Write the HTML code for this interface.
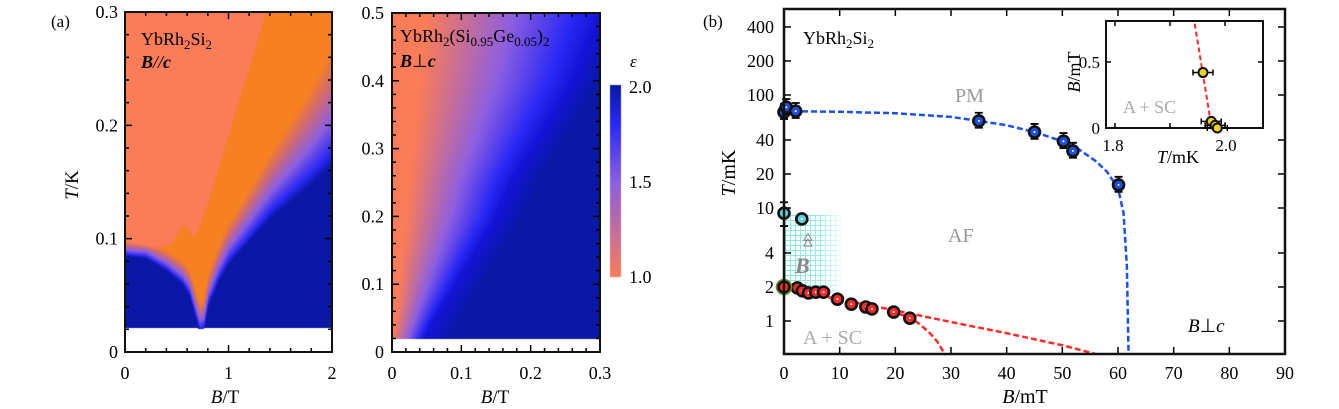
<!DOCTYPE html>
<html><head><meta charset="utf-8">
<style>
body{margin:0;background:#fff;width:1339px;height:409px;overflow:hidden;position:relative;font-family:"Liberation Serif",serif}
canvas{position:absolute;left:0;top:0}
svg{position:absolute;left:0;top:0}
</style></head><body>
<canvas id="heat" width="1339" height="409"></canvas>
<svg id="fig" width="1339" height="409" font-family="Liberation Serif, serif"></svg>
<script>
// ---------- Panel (a) heatmap boundary data ----------
const a1B=[0,0.2,0.4,0.55,0.62,0.68,0.72,0.76,0.8,0.9,1.0,1.2,1.4,1.6,1.8,2.0];
const a1Lo=[0.085,0.083,0.072,0.06,0.05,0.03,0.018,0.02,0.04,0.062,0.078,0.098,0.118,0.133,0.148,0.165];
const a1HiB=[0,0.3,0.45,0.55,0.6,0.65,0.7,0.8,0.9,1.0,1.1,1.2,1.3,1.36,1.4,2.0];
const a1Hi=[0.095,0.09,0.093,0.11,0.108,0.1,0.105,0.13,0.16,0.19,0.22,0.25,0.28,0.3,0.4,0.4];
const a2T=[0.02,0.05,0.1,0.15,0.2,0.25,0.3,0.35,0.4,0.45,0.5];
const a2Start=[0.0,0.005,0.01,0.015,0.02,0.025,0.03,0.035,0.04,0.045,0.05];
const a2Full=[0.045,0.06,0.09,0.12,0.15,0.17,0.2,0.23,0.26,0.28,0.3];
// ---------- Panel (b) data ----------
const blueB=[0,0.4,2.1,35,45,50.2,51.9,60.1];
const blueT=[70.6,78,72,59,47,39,32,16];
const cyanB=[0,3.2];
const cyanT=[9.0,8.0];
const redB=[0,2.4,3.3,4.4,5.7,7.1,9.6,12.1,14.7,15.8,19.7,22.6];
const redT=[2.0,1.96,1.85,1.77,1.8,1.8,1.56,1.41,1.33,1.28,1.2,1.06];
const fitBlueB=[0,10,20,30,35,40,45,50,53,56,58,60,61,61.6,61.9];
const fitBlueT=[72,71,69,64,59,54,47,39,33,26,21,15,9,3,0.5];
const fitRedB=[0,10,20,30,40,50,56];
const fitRedT=[1.95,1.55,1.24,0.98,0.78,0.61,0.51];
const fitRed2B=[19,22,24,26,27.5,29];
const fitRed2T=[1.22,1.1,0.97,0.8,0.66,0.5];
const insetT=[1.96,1.975,1.982,1.986];
const insetB=[0.42,0.05,0.02,0.0];
const insetFitT=[1.945,1.975];
const insetFitB=[0.79,0.02];

function interp(xs,ys,x){if(x<=xs[0])return ys[0];for(let i=1;i<xs.length;i++){if(x<=xs[i]){const t=(x-xs[i-1])/(xs[i]-xs[i-1]);return ys[i-1]+t*(ys[i]-ys[i-1]);}}return ys[ys.length-1];}
function mix(c1,c2,t){return [c1[0]+(c2[0]-c1[0])*t,c1[1]+(c2[1]-c1[1])*t,c1[2]+(c2[2]-c1[2])*t];}
function ramp(stops,d){d=Math.max(0,Math.min(1,d));for(let i=1;i<stops.length;i++){if(d<=stops[i][0]){const t=(d-stops[i-1][0])/(stops[i][0]-stops[i-1][0]);return mix(stops[i-1][1],stops[i][1],t);}}return stops[stops.length-1][1];}
const DB=[10,24,165],BB=[40,40,245],PU=[140,95,225],PK=[205,105,120],OR=[247,128,32],SA=[250,124,88];
const cmapStops=[[0,SA],[0.5,PU],[0.8,BB],[1,DB]];
const A1={x0:125,x1:332,y0:12,y1:352,bmax:2,tmax:0.3};
const A2={x0:392,x1:600,y0:13,y1:352,bmax:0.3,tmax:0.5};
(function(){
 const c=document.getElementById('heat').getContext('2d');
 const img=c.createImageData(1339,409);const D=img.data;
 function put(x,y,col){const i=(y*1339+x)*4;D[i]=col[0];D[i+1]=col[1];D[i+2]=col[2];D[i+3]=255;}
 for(let y=A1.y0;y<A1.y1;y++)for(let x=A1.x0;x<A1.x1;x++){
  const B=(x-A1.x0)/(A1.x1-A1.x0)*A1.bmax,T=(A1.y1-y)/(A1.y1-A1.y0)*A1.tmax;
  if(T<0.022&&!(B>0.7&&B<0.76&&T>0.021)){continue;}
  const lo=interp(a1B,a1Lo,B),hi=interp(a1HiB,a1Hi,B);
  const w=0.014+0.09*Math.pow(B/2,2);
  let col;
  if(T<lo)col=DB;else{const d=(T-lo)/w;col=ramp([[0,DB],[0.12,BB],[0.4,PU],[0.7,PK],[1,OR]],d);}
  if(T>hi){const s=Math.min(1,(T-hi)/0.004);col=mix(col,SA,s);}
  put(x,y,col);}
 for(let y=A2.y0;y<A2.y1;y++)for(let x=A2.x0;x<A2.x1;x++){
  const B=(x-A2.x0)/(A2.x1-A2.x0)*A2.bmax,T=(A2.y1-y)/(A2.y1-A2.y0)*A2.tmax;
  if(T<0.02)continue;
  const s=interp(a2T,a2Start,T),f=interp(a2T,a2Full,T);
  const d=(B-s)/(f-s);let col;
  if(d<=1)col=ramp([[0,SA],[0.5,PU],[0.85,BB],[1,[20,20,215]]],d);
  else col=mix([20,20,215],DB,Math.min(1,(B-f)/0.04));
  put(x,y,col);}
 for(let y=85;y<277;y++)for(let x=610;x<621;x++){put(x,y,ramp(cmapStops,(277-y)/192));}
 c.putImageData(img,0,0);
})();

const NS='http://www.w3.org/2000/svg';
const svg=document.getElementById('fig');
function el(tag,attrs,parent){const e=document.createElementNS(NS,tag);for(const k in attrs)e.setAttribute(k,attrs[k]);(parent||svg).appendChild(e);return e;}
function txt(s,x,y,size,anchor,extra,parent){const t=el('text',Object.assign({x:x,y:y,'font-size':size,'text-anchor':anchor||'start'},extra||{}),parent);t.innerHTML=s;return t;}

function linFrame(P,xMaj,xMin,yMaj,yMin,name){
 const g=el('g',{});
 
 
 const xs=b=>P.x0+b/P.bmax*(P.x1-P.x0), ys=t=>P.y1-t/P.tmax*(P.y1-P.y0);
 for(let v=0;v<=P.bmax+1e-9;v+=xMin){const maj=Math.abs(v/xMaj-Math.round(v/xMaj))<1e-6;const L=maj?7:4;const X=xs(v);
  el('line',{x1:X,y1:P.y1,x2:X,y2:P.y1-L,stroke:'#000','stroke-width':1.5},g);el('line',{x1:X,y1:P.y0,x2:X,y2:P.y0+L,stroke:'#000','stroke-width':1.5},g);}
 for(let v=0;v<=P.tmax+1e-9;v+=yMin){const maj=Math.abs(v/yMaj-Math.round(v/yMaj))<1e-6;const L=maj?7:4;const Y=ys(v);
  el('line',{x1:P.x0,y1:Y,x2:P.x0+L,y2:Y,stroke:'#000','stroke-width':1.5},g);el('line',{x1:P.x1,y1:Y,x2:P.x1-L,y2:Y,stroke:'#000','stroke-width':1.5},g);}
 el('rect',{x:P.x0,y:P.y0,width:P.x1-P.x0,height:P.y1-P.y0,fill:'none',stroke:'#111','stroke-width':2},g);
 return {xs,ys};
}
const f1=linFrame(A1,1,0.2,0.1,0.02,'panel-a1-frame');
const f2=linFrame(A2,0.1,0.02,0.1,0.02,'panel-a2-frame');
const a1YL=['0','0.1','0.2','0.3'],a1XL=['0','1','2'];
a1YL.forEach((s,i)=>{const t=txt(s,118,f1.ys(i*0.1)+6,18,'end');});
a1XL.forEach((s,i)=>{const t=txt(s,f1.xs(i),379,18,'middle');});
const a2YL=['0','0.1','0.2','0.3','0.4','0.5'],a2XL=['0','0.1','0.2','0.3'];
a2YL.forEach((s,i)=>{const t=txt(s,384,f2.ys(i*0.1)+6,18,'end');});
a2XL.forEach((s,i)=>{const t=txt(s,f2.xs(i*0.1),379,18,'middle');});
</script>
<svg width="1339" height="409" style="position:absolute;left:0;top:0" font-family="Liberation Serif, serif">
 <text x="51" y="27" font-size="17">(a)</text>
 <text x="141" y="45" font-size="18">YbRh<tspan font-size="13" dy="4">2</tspan><tspan dy="-4">Si</tspan><tspan font-size="13" dy="4">2</tspan></text>
 <text x="141" y="68" font-size="18" font-weight="bold" font-style="italic">B<tspan font-weight="normal" font-style="italic">//</tspan>c</text>
 <text x="400" y="42" font-size="18">YbRh<tspan font-size="13" dy="4">2</tspan><tspan dy="-4">(Si</tspan><tspan font-size="13" dy="4">0.95</tspan><tspan dy="-4">Ge</tspan><tspan font-size="13" dy="4">0.05</tspan><tspan dy="-4">)</tspan><tspan font-size="13" dy="4">2</tspan></text>
 <text x="400" y="67" font-size="18" font-weight="bold" font-style="italic">B<tspan font-weight="normal" font-style="normal">⊥</tspan>c</text>
 <text x="78" y="185" font-size="19" text-anchor="middle" transform="rotate(-90 78 185)"><tspan font-style="italic">T</tspan>/K</text>
 <text x="225" y="403" font-size="19" text-anchor="middle"><tspan font-style="italic">B</tspan>/T</text>
 <text x="495" y="403" font-size="19" text-anchor="middle"><tspan font-style="italic">B</tspan>/T</text>
 <text x="630" y="67" font-size="17" font-style="italic">ε</text>
 <text x="629" y="93" font-size="18">2.0</text>
 <text x="629" y="188" font-size="18">1.5</text>
 <text x="629" y="283" font-size="18">1.0</text>
 <text x="703" y="27" font-size="17">(b)</text>
</svg>
<script>
const BX0=784,BX1=1285,BY0=9,BY1=354;
const bx=b=>BX0+b*(BX1-BX0)/90;
const by=t=>321-113*Math.log10(t);
const IX=t=>1115+(t-1.8)*550, IY=b=>128-b*132;
const bg=el('g',{});


const defs=el('defs',{},bg);
const pat=el('pattern',{id:'hatch',width:5,height:5,patternUnits:'userSpaceOnUse'},defs);
el('path',{d:'M0 0.5H5M0.5 0V5',stroke:'#7fe8e0','stroke-width':1},pat);
const lg=el('linearGradient',{id:'fade',x1:0,x2:1,y1:0,y2:0},defs);
el('stop',{offset:0,'stop-color':'#fff','stop-opacity':1},lg);el('stop',{offset:0.6,'stop-color':'#fff','stop-opacity':0.8},lg);el('stop',{offset:1,'stop-color':'#fff','stop-opacity':0},lg);
const mask=el('mask',{id:'m'},defs);el('rect',{x:784,y:215,width:60,height:76,fill:'url(#fade)'},mask);
const hr=el('rect',{x:784,y:215,width:60,height:76,fill:'url(#hatch)',mask:'url(#m)'},bg);


const yT=[1,2,4,10,20,40,100,200,400],yL=['1','2','4','10','20','40','100','200','400'];
yT.forEach((t,i)=>{const Y=by(t);el('line',{x1:BX0,y1:Y,x2:BX0+7,y2:Y,stroke:'#000','stroke-width':1.5},bg);el('line',{x1:BX1,y1:Y,x2:BX1-7,y2:Y,stroke:'#000','stroke-width':1.5},bg);
 const t2=txt(yL[i],774,Y+6,18,'end',{},bg);});
for(let v=0;v<=90;v+=10){const X=bx(v);el('line',{x1:X,y1:BY1,x2:X,y2:BY1-7,stroke:'#000','stroke-width':1.5},bg);el('line',{x1:X,y1:BY0,x2:X,y2:BY0+7,stroke:'#000','stroke-width':1.5},bg);
 const t2=txt(String(v),X,379,18,'middle',{},bg);}
function pl(xs,ys,fx,fy,color,name,w){const p=el('polyline',{points:xs.map((x,i)=>fx(x)+','+fy(ys[i])).join(' '),fill:'none',stroke:color,'stroke-width':w||2.5,'stroke-dasharray':'6,3'},bg);return p;}
pl(fitBlueB,fitBlueT,bx,by,'#1e4fe6','afm-boundary-fit');
pl(fitRedB,fitRedT,bx,by,'#ff2a2a','sc-boundary-fit');
pl(fitRed2B,fitRed2T,bx,by,'#ff2a2a','sc-boundary-fit-2');
function pt(X,Y,fill,name,ey1,ey2){
 if(ey1!==undefined){const e=el('path',{d:`M${X} ${ey1}V${ey2}M${X-4} ${ey1}H${X+4}M${X-4} ${ey2}H${X+4}`,stroke:'#000','stroke-width':1.8},bg);}
 const c=el('circle',{cx:X,cy:Y,r:5.5,fill:fill,stroke:'#111','stroke-width':2.6},bg);
 
 
 el('circle',{cx:X,cy:Y,r:1,fill:'#fff'},bg);
}
blueB.forEach((b,i)=>pt(bx(b),by(blueT[i]),'#1f4fe0','afm-point',by(blueT[i]*1.18),by(blueT[i]/1.15)));
cyanB.forEach((b,i)=>pt(bx(b),by(cyanT[i]),'#5fd0e0','cyan-point',i==0?by(cyanT[i]*1.25):undefined,i==0?by(cyanT[i]/1.3):undefined));
redB.forEach((b,i)=>pt(bx(b),by(redT[i]),'#ff2a2a','sc-point',by(redT[i]*1.08),by(redT[i]/1.08)));
el('circle',{cx:bx(0),cy:by(2),r:7.5,fill:'none',stroke:'#6a8a20','stroke-width':1.5},bg);
[5.5,4.9].forEach(t=>{const X=bx(4.3),Y=by(t);el('path',{d:`M${X-4} ${Y+3}L${X} ${Y-4}L${X+4} ${Y+3}Z`,fill:'none',stroke:'#888','stroke-width':1},bg);});
el('rect',{x:BX0,y:BY0,width:BX1-BX0,height:BY1-BY0,fill:'none',stroke:'#111','stroke-width':2.5},bg);
function tt(s,x,y,size,anchor,extra,name){const t=txt(s,x,y,size,anchor,extra,bg);}
tt('YbRh<tspan font-size="13" dy="4">2</tspan><tspan dy="-4">Si</tspan><tspan font-size="13" dy="4">2</tspan>',803,44,18,'start',{},'b-material-label');
tt('PM',955,102,20,'start',{fill:'#999'},'pm-region-label');
tt('AF',948,242,20,'start',{fill:'#999'},'af-region-label');
tt('A + SC',803,344,20,'start',{fill:'#aaa'},'a-sc-region-label');
tt('B',795,273,22,'start',{fill:'#888','font-style':'italic','font-weight':'bold'},'b-phase-label');
tt('<tspan font-style="italic">B</tspan>⊥<tspan font-style="italic">c</tspan>',1188,332,19,'start',{},'field-orientation-label');
tt('<tspan font-style="italic">T</tspan>/mK',735,173,20,'middle',{transform:'rotate(-90 735 173)'},'b-y-axis-title');
tt('<tspan font-style="italic">B</tspan>/mT',1025,403,20,'middle',{},'b-x-axis-title');
const ig=el('g',{},bg);


el('rect',{x:1106,y:21,width:157,height:107,fill:'#fff',stroke:'#111','stroke-width':2},ig);
[1.8,1.9,2.0].forEach(t=>{const X=IX(t);el('line',{x1:X,y1:21,x2:X,y2:26,stroke:'#000','stroke-width':1.5},ig);el('line',{x1:X,y1:128,x2:X,y2:123,stroke:'#000','stroke-width':1.5},ig);});
[0.5].forEach(b=>{const Y=IY(b);el('line',{x1:1106,y1:Y,x2:1111,y2:Y,stroke:'#000','stroke-width':1.5},ig);el('line',{x1:1263,y1:Y,x2:1258,y2:Y,stroke:'#000','stroke-width':1.5},ig);});
const ifit=el('polyline',{points:insetFitT.map((t,i)=>IX(t)+','+IY(insetFitB[i])).join(' '),fill:'none',stroke:'#ff2a2a','stroke-width':2,'stroke-dasharray':'5,3'},ig);


insetT.forEach((t,i)=>{const X=IX(t),Y=IY(insetB[i]);
 const e=el('path',{d:`M${X-10} ${Y}H${X+10}M${X-10} ${Y-3}V${Y+3}M${X+10} ${Y-3}V${Y+3}`,stroke:'#000','stroke-width':1.5},ig);
 
 
 const c=el('circle',{cx:X,cy:Y,r:4.5,fill:'#f2d020',stroke:'#111','stroke-width':2},ig);
 
 });
tt('A + SC',1123,113,18,'start',{fill:'#aaa'},'inset-region-label');
tt('0.5',1100,68,17,'end',{},'inset-y-tick');
tt('0',1100,134,17,'end',{},'inset-y-tick');
tt('1.8',1113,151,17,'middle',{},'inset-x-tick');
tt('2.0',1226,151,17,'middle',{},'inset-x-tick');
tt('<tspan font-style="italic">T</tspan>/mK',1178,163,18,'middle',{},'inset-x-axis-title');
tt('<tspan font-style="italic">B</tspan>/mT',1080,72,18,'middle',{transform:'rotate(-90 1080 72)'},'inset-y-axis-title');
</script>
</body></html>
